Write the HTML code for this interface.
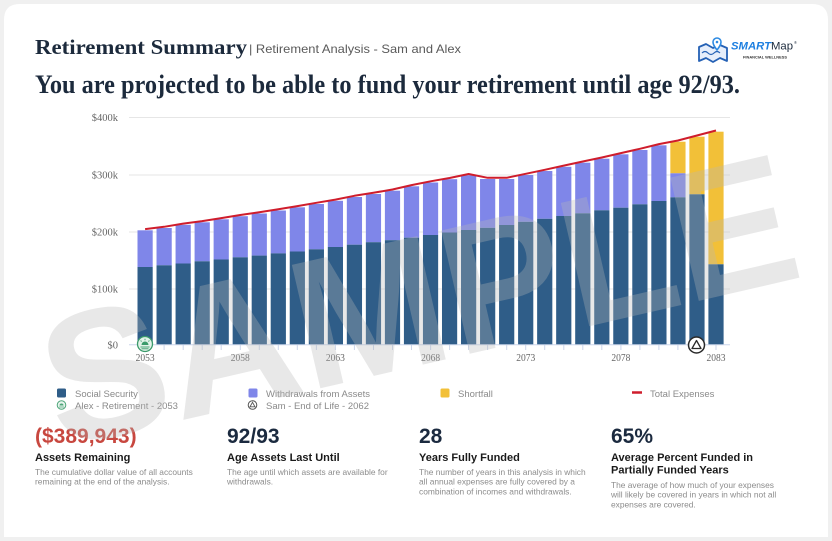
<!DOCTYPE html>
<html><head><meta charset="utf-8"><style>
html,body{margin:0;padding:0;background:#f0f0f0;}
svg{display:block;}
</style></head><body>
<svg width="832" height="541" viewBox="0 0 832 541" xmlns="http://www.w3.org/2000/svg">
<rect x="0" y="0" width="832" height="541" fill="#f0f0f0"/>
<path d="M4 537 L4 20 Q4 4 20 4 L812 4 Q828 4 828 20 L828 537 Z" fill="#ffffff"/>

<!-- Header -->
<text x="35" y="54" font-family="Liberation Serif, serif" font-weight="bold" font-size="21" fill="#1c2a3c" textLength="212" lengthAdjust="spacingAndGlyphs">Retirement Summary</text>
<text x="249" y="53" font-family="Liberation Sans, sans-serif" font-size="12" fill="#5a5a5a" textLength="212" lengthAdjust="spacingAndGlyphs">| Retirement Analysis - Sam and Alex</text>
<text x="35" y="93" font-family="Liberation Serif, serif" font-weight="bold" font-size="26.5" fill="#1c2a3c" textLength="705" lengthAdjust="spacingAndGlyphs">You are projected to be able to fund your retirement until age 92/93.</text>

<!-- Logo -->
<g>
<path d="M699 47 L706 44 L713 48 L720 45 L727 48 L727 61 L720 58 L713 62 L706 58 L699 61 Z" fill="#e6eefb" stroke="#2561b5" stroke-width="1.8" stroke-linejoin="round"/>
<path d="M702 53 q3 -3 6 0 t6 0 t6 0" fill="none" stroke="#2561b5" stroke-width="1.2"/>
<path d="M713 42 a4 4 0 1 1 8 0 q0 3 -4 8 q-4 -5 -4 -8 Z" fill="#ffffff" stroke="#2d8ae2" stroke-width="1.6"/>
<circle cx="717" cy="42" r="1.3" fill="#2d8ae2"/>
<text x="731" y="49.5" font-family="Liberation Sans, sans-serif" font-size="11" textLength="62" lengthAdjust="spacingAndGlyphs"><tspan font-weight="bold" font-style="italic" fill="#1d7fe0">SMART</tspan><tspan fill="#1c2a3c">Map</tspan></text>
<text x="794" y="44" font-family="Liberation Sans, sans-serif" font-size="4" fill="#1c2a3c">®</text>
<text x="743" y="58.5" font-family="Liberation Sans, sans-serif" font-weight="bold" font-size="3.6" fill="#333" textLength="44" lengthAdjust="spacingAndGlyphs">FINANCIAL WELLNESS</text>
</g>

<!-- Grid -->
<g stroke="#e6e6e6" stroke-width="1">
<line x1="129" y1="117.5" x2="730" y2="117.5"/>
<line x1="129" y1="175" x2="730" y2="175"/>
<line x1="129" y1="232" x2="730" y2="232"/>
<line x1="129" y1="289" x2="730" y2="289"/>
</g>

<!-- Y labels -->
<g font-family="Liberation Serif, serif" font-size="10.5" fill="#666" text-anchor="end">
<text x="118" y="121">$400k</text>
<text x="118" y="178.5">$300k</text>
<text x="118" y="235.5">$200k</text>
<text x="118" y="292.5">$100k</text>
<text x="118" y="348.5">$0</text>
</g>

<!-- Bars -->
<g>
<rect x="137.5" y="230.3" width="15.2" height="36.7" fill="#7f86e9"/><rect x="137.5" y="267" width="15.2" height="77.5" fill="#2f5d88"/>
<rect x="156.53" y="228" width="15.2" height="37.3" fill="#7f86e9"/><rect x="156.53" y="265.3" width="15.2" height="79.2" fill="#2f5d88"/>
<rect x="175.56" y="224.8" width="15.2" height="38.7" fill="#7f86e9"/><rect x="175.56" y="263.5" width="15.2" height="81" fill="#2f5d88"/>
<rect x="194.59" y="222.3" width="15.2" height="39" fill="#7f86e9"/><rect x="194.59" y="261.3" width="15.2" height="83.2" fill="#2f5d88"/>
<rect x="213.62" y="219.3" width="15.2" height="40.2" fill="#7f86e9"/><rect x="213.62" y="259.5" width="15.2" height="85" fill="#2f5d88"/>
<rect x="232.65" y="216.2" width="15.2" height="41.1" fill="#7f86e9"/><rect x="232.65" y="257.3" width="15.2" height="87.2" fill="#2f5d88"/>
<rect x="251.68" y="213.5" width="15.2" height="42.1" fill="#7f86e9"/><rect x="251.68" y="255.6" width="15.2" height="88.9" fill="#2f5d88"/>
<rect x="270.71" y="210.5" width="15.2" height="42.9" fill="#7f86e9"/><rect x="270.71" y="253.4" width="15.2" height="91.1" fill="#2f5d88"/>
<rect x="289.74" y="207.3" width="15.2" height="44.2" fill="#7f86e9"/><rect x="289.74" y="251.5" width="15.2" height="93" fill="#2f5d88"/>
<rect x="308.77" y="204" width="15.2" height="45.3" fill="#7f86e9"/><rect x="308.77" y="249.3" width="15.2" height="95.2" fill="#2f5d88"/>
<rect x="327.8" y="200.8" width="15.2" height="46.2" fill="#7f86e9"/><rect x="327.8" y="247" width="15.2" height="97.5" fill="#2f5d88"/>
<rect x="346.83" y="197" width="15.2" height="47.7" fill="#7f86e9"/><rect x="346.83" y="244.7" width="15.2" height="99.8" fill="#2f5d88"/>
<rect x="365.86" y="194" width="15.2" height="48.2" fill="#7f86e9"/><rect x="365.86" y="242.2" width="15.2" height="102.3" fill="#2f5d88"/>
<rect x="384.89" y="190.7" width="15.2" height="49.5" fill="#7f86e9"/><rect x="384.89" y="240.2" width="15.2" height="104.3" fill="#2f5d88"/>
<rect x="403.92" y="186.3" width="15.2" height="51.4" fill="#7f86e9"/><rect x="403.92" y="237.7" width="15.2" height="106.8" fill="#2f5d88"/>
<rect x="422.95" y="182.5" width="15.2" height="52.5" fill="#7f86e9"/><rect x="422.95" y="235" width="15.2" height="109.5" fill="#2f5d88"/>
<rect x="441.98" y="179.2" width="15.2" height="53.3" fill="#7f86e9"/><rect x="441.98" y="232.5" width="15.2" height="112" fill="#2f5d88"/>
<rect x="461.01" y="175.2" width="15.2" height="54.8" fill="#7f86e9"/><rect x="461.01" y="230" width="15.2" height="114.5" fill="#2f5d88"/>
<rect x="480.04" y="179" width="15.2" height="48.8" fill="#7f86e9"/><rect x="480.04" y="227.8" width="15.2" height="116.7" fill="#2f5d88"/>
<rect x="499.07" y="179" width="15.2" height="46" fill="#7f86e9"/><rect x="499.07" y="225" width="15.2" height="119.5" fill="#2f5d88"/>
<rect x="518.1" y="175" width="15.2" height="46.8" fill="#7f86e9"/><rect x="518.1" y="221.8" width="15.2" height="122.7" fill="#2f5d88"/>
<rect x="537.13" y="171" width="15.2" height="47.8" fill="#7f86e9"/><rect x="537.13" y="218.8" width="15.2" height="125.7" fill="#2f5d88"/>
<rect x="556.16" y="166.8" width="15.2" height="49.2" fill="#7f86e9"/><rect x="556.16" y="216" width="15.2" height="128.5" fill="#2f5d88"/>
<rect x="575.19" y="162.7" width="15.2" height="50.6" fill="#7f86e9"/><rect x="575.19" y="213.3" width="15.2" height="131.2" fill="#2f5d88"/>
<rect x="594.22" y="158.7" width="15.2" height="51.6" fill="#7f86e9"/><rect x="594.22" y="210.3" width="15.2" height="134.2" fill="#2f5d88"/>
<rect x="613.25" y="154.3" width="15.2" height="53.4" fill="#7f86e9"/><rect x="613.25" y="207.7" width="15.2" height="136.8" fill="#2f5d88"/>
<rect x="632.28" y="150" width="15.2" height="54.3" fill="#7f86e9"/><rect x="632.28" y="204.3" width="15.2" height="140.2" fill="#2f5d88"/>
<rect x="651.31" y="145.3" width="15.2" height="55.7" fill="#7f86e9"/><rect x="651.31" y="201" width="15.2" height="143.5" fill="#2f5d88"/>
<rect x="670.34" y="141.7" width="15.2" height="31.6" fill="#f2c038"/><rect x="670.34" y="173.3" width="15.2" height="24" fill="#7f86e9"/><rect x="670.34" y="197.3" width="15.2" height="147.2" fill="#2f5d88"/>
<rect x="689.37" y="136.7" width="15.2" height="57.6" fill="#f2c038"/><rect x="689.37" y="194.3" width="15.2" height="150.2" fill="#2f5d88"/>
<rect x="708.4" y="131.7" width="15.2" height="132.6" fill="#f2c038"/><rect x="708.4" y="264.3" width="15.2" height="80.2" fill="#2f5d88"/>
</g>

<!-- Axis -->
<line x1="129" y1="344.8" x2="730" y2="344.8" stroke="#ccd6eb" stroke-width="1"/>
<g stroke="#ccd6eb" stroke-width="1">
<line x1="164.1" y1="345" x2="164.1" y2="350"/><line x1="183.2" y1="345" x2="183.2" y2="350"/><line x1="202.2" y1="345" x2="202.2" y2="350"/><line x1="221.2" y1="345" x2="221.2" y2="350"/><line x1="240.3" y1="345" x2="240.3" y2="350"/><line x1="259.3" y1="345" x2="259.3" y2="350"/><line x1="278.3" y1="345" x2="278.3" y2="350"/><line x1="297.3" y1="345" x2="297.3" y2="350"/><line x1="316.4" y1="345" x2="316.4" y2="350"/><line x1="335.4" y1="345" x2="335.4" y2="350"/><line x1="354.4" y1="345" x2="354.4" y2="350"/><line x1="373.5" y1="345" x2="373.5" y2="350"/><line x1="392.5" y1="345" x2="392.5" y2="350"/><line x1="411.5" y1="345" x2="411.5" y2="350"/><line x1="430.6" y1="345" x2="430.6" y2="350"/><line x1="449.6" y1="345" x2="449.6" y2="350"/><line x1="468.6" y1="345" x2="468.6" y2="350"/><line x1="487.6" y1="345" x2="487.6" y2="350"/><line x1="506.7" y1="345" x2="506.7" y2="350"/><line x1="525.7" y1="345" x2="525.7" y2="350"/><line x1="544.7" y1="345" x2="544.7" y2="350"/><line x1="563.8" y1="345" x2="563.8" y2="350"/><line x1="582.8" y1="345" x2="582.8" y2="350"/><line x1="601.8" y1="345" x2="601.8" y2="350"/><line x1="620.9" y1="345" x2="620.9" y2="350"/><line x1="639.9" y1="345" x2="639.9" y2="350"/><line x1="658.9" y1="345" x2="658.9" y2="350"/><line x1="677.9" y1="345" x2="677.9" y2="350"/><line x1="716" y1="345" x2="716" y2="350"/>
</g>

<!-- X labels -->
<g font-family="Liberation Serif, serif" font-size="11" fill="#666" text-anchor="middle">
<text x="145.1" y="361" textLength="19" lengthAdjust="spacingAndGlyphs">2053</text>
<text x="240.3" y="361" textLength="19" lengthAdjust="spacingAndGlyphs">2058</text>
<text x="335.4" y="361" textLength="19" lengthAdjust="spacingAndGlyphs">2063</text>
<text x="430.6" y="361" textLength="19" lengthAdjust="spacingAndGlyphs">2068</text>
<text x="525.7" y="361" textLength="19" lengthAdjust="spacingAndGlyphs">2073</text>
<text x="620.9" y="361" textLength="19" lengthAdjust="spacingAndGlyphs">2078</text>
<text x="716" y="361" textLength="19" lengthAdjust="spacingAndGlyphs">2083</text>
</g>

<!-- Total expenses line -->
<polyline fill="none" stroke="#cf1d2c" stroke-width="2" stroke-linejoin="round" points="145.1,229.1 164.13,226.8 183.16,223.6 202.19,221.1 221.22,218.1 240.25,215 259.28,212.3 278.31,209.3 297.34,206.1 316.37,202.8 335.4,199.6 354.43,195.8 373.46,192.8 392.49,189.5 411.52,185.1 430.55,181.3 449.58,178 468.61,174 487.64,177.8 506.67,177.8 525.7,173.8 544.73,169.8 563.76,165.6 582.79,161.5 601.82,157.5 620.85,153.1 639.88,148.8 658.91,144.1 677.94,140.5 696.97,135.5 716,130.5"/>

<!-- Alex icon on chart -->
<g>
<circle cx="145" cy="344" r="7.5" fill="#e2f3e9" stroke="#3b9b6b" stroke-width="1.3"/>
<path d="M141.5 345 a3.5 3.5 0 0 1 7 0 Z" fill="#3b9b6b"/>
<g stroke="#3b9b6b" stroke-width="0.9"><line x1="145" y1="338.8" x2="145" y2="340.2"/><line x1="140.6" y1="340.6" x2="141.6" y2="341.5"/><line x1="149.4" y1="340.6" x2="148.4" y2="341.5"/><line x1="140.5" y1="347" x2="149.5" y2="347"/><line x1="141.5" y1="348.8" x2="148.5" y2="348.8"/></g>
</g>
<!-- Sam icon on chart -->
<g>
<circle cx="696.5" cy="345" r="8" fill="#ffffff" stroke="#2a2a2a" stroke-width="1.5"/>
<path d="M696.5 340.5 L701 348.5 L692 348.5 Z" fill="none" stroke="#2a2a2a" stroke-width="1.3" stroke-linejoin="round"/>
</g>

<!-- Legend -->
<g font-family="Liberation Sans, sans-serif" font-size="9.5" fill="#8a8a8a">
<rect x="57" y="388.5" width="9" height="9" rx="1.5" fill="#2f5d88"/>
<text x="75" y="397">Social Security</text>
<rect x="248.5" y="388.5" width="9" height="9" rx="1.5" fill="#7f86e9"/>
<text x="266" y="397">Withdrawals from Assets</text>
<rect x="440.5" y="388.5" width="9" height="9" rx="1.5" fill="#f2c038"/>
<text x="458" y="397">Shortfall</text>
<line x1="632" y1="392.5" x2="642" y2="392.5" stroke="#cf1d2c" stroke-width="2.5"/>
<text x="650" y="397">Total Expenses</text>

<circle cx="61.5" cy="405" r="4.3" fill="#e8f5ee" stroke="#4fa67a" stroke-width="1"/>
<path d="M59.5 405.5 a2 2 0 0 1 4 0 Z" fill="#4fa67a"/>
<line x1="59" y1="407" x2="64" y2="407" stroke="#4fa67a" stroke-width="0.7"/>
<text x="75" y="409">Alex - Retirement - 2053</text>
<circle cx="252.5" cy="405" r="4.3" fill="#fff" stroke="#555" stroke-width="1"/>
<path d="M252.5 402.3 L255 406.8 L250 406.8 Z" fill="none" stroke="#555" stroke-width="0.9"/>
<text x="266" y="409">Sam - End of Life - 2062</text>
</g>

<!-- Stats -->
<g font-family="Liberation Sans, sans-serif">
<text x="35" y="443" font-size="21" font-weight="bold" fill="#c8473f">($389,943)</text>
<text x="227" y="443" font-size="21" font-weight="bold" fill="#1b2a3f">92/93</text>
<text x="419" y="443" font-size="21" font-weight="bold" fill="#1b2a3f">28</text>
<text x="611" y="443" font-size="21" font-weight="bold" fill="#1b2a3f">65%</text>

<g font-size="11" font-weight="bold" fill="#1a1a1a">
<text x="35" y="461">Assets Remaining</text>
<text x="227" y="461">Age Assets Last Until</text>
<text x="419" y="461">Years Fully Funded</text>
<text x="611" y="461">Average Percent Funded in</text>
<text x="611" y="473.5">Partially Funded Years</text>
</g>

<g font-size="8.4" fill="#8c8c8c">
<text x="35" y="475">The cumulative dollar value of all accounts</text>
<text x="35" y="484.7">remaining at the end of the analysis.</text>
<text x="227" y="475">The age until which assets are available for</text>
<text x="227" y="484.7">withdrawals.</text>
<text x="419" y="475">The number of years in this analysis in which</text>
<text x="419" y="484.7">all annual expenses are fully covered by a</text>
<text x="419" y="494.4">combination of incomes and withdrawals.</text>
<text x="611" y="488">The average of how much of your expenses</text>
<text x="611" y="497.7">will likely be covered in years in which not all</text>
<text x="611" y="507.4">expenses are covered.</text>
</g>
</g>

<!-- Watermark -->
<g transform="translate(418,298) rotate(-13)">
<text x="0" y="66" text-anchor="middle" font-family="Liberation Sans, sans-serif" font-weight="bold" font-size="184" fill="#b7b7b7" fill-opacity="0.32">SAMPLE</text>
</g>
</svg>
</body></html>
